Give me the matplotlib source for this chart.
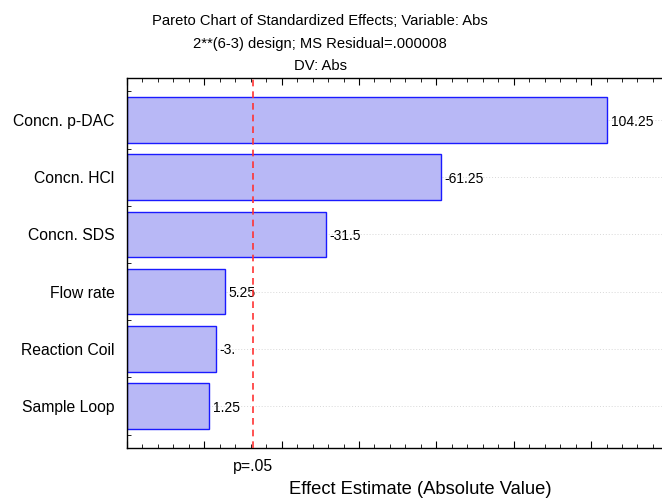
import numpy as np
import matplotlib
matplotlib.use("Agg")
import matplotlib.pyplot as plt
from matplotlib.ticker import MultipleLocator, NullFormatter

plt.rcParams['font.family'] = ['Liberation Sans', 'DejaVu Sans']

factors = ["Concn. p-DAC", "Concn. HCl", "Concn. SDS", "Flow rate", "Reaction Coil", "Sample Loop"]
effects = [104.25, -61.25, -31.5, 5.25, -3.0, 1.25]
labels = ["104.25", "-61.25", "-31.5", "5.25", "-3.", "1.25"]
p_crit = 12.706  # t(0.975, df=1)

fig = plt.figure(figsize=(6.62, 4.99), dpi=100)
ax = fig.add_axes([127/662, 1 - 448/499, (662 - 127)/662, (448 - 78)/499])

xmin, xmax = -20, 118.35
pos = np.arange(len(factors))
absvals = np.abs(effects)

for y in pos:
    ax.axhline(y, color="#d8d8d8", lw=0.7, ls=(0, (1, 2)), zorder=0)

ax.barh(pos, absvals + (0 - xmin), left=xmin, height=0.8,
        color="#b8b8f6", edgecolor="#1a1aff", linewidth=1.0, zorder=2)

for y, v, t in zip(pos, absvals, labels):
    ax.text(v + 0.9, y + 0.03, t, va="center", ha="left", fontsize=10, zorder=3)

ax.axvline(p_crit, color="#ff3333", ls=(0, (4, 3)), lw=1.2, zorder=4)

ax.set_xlim(xmin, xmax)
ax.set_ylim(len(factors) - 1 + 0.735, -0.735)
ax.set_yticks(pos)
ax.set_yticklabels(factors, fontsize=11.3)
ax.yaxis.set_minor_locator(MultipleLocator(0.5))

ax.xaxis.set_major_locator(MultipleLocator(20))
ax.xaxis.set_minor_locator(MultipleLocator(4))
ax.xaxis.set_major_formatter(NullFormatter())

ax.tick_params(axis="x", which="both", direction="in", top=True, bottom=True)
ax.tick_params(axis="y", which="both", direction="in", left=True, right=False)
ax.tick_params(which="major", length=5, width=0.8, pad=9)
ax.tick_params(which="minor", length=3, width=0.6)
ax.spines["right"].set_visible(False)
for s in ["left", "top", "bottom"]:
    ax.spines[s].set_linewidth(1.0)

ax.text(p_crit, -0.03, "p=.05", transform=ax.get_xaxis_transform(),
        ha="center", va="top", fontsize=11.4)

fig.text(420/662, 1 - 490/499, "Effect Estimate (Absolute Value)", ha="center", va="center", fontsize=13.2)

fig.text(320/662, 1 - 21/499, "Pareto Chart of Standardized Effects; Variable: Abs", ha="center", va="center", fontsize=10.6)
fig.text(320/662, 1 - 44/499, "2**(6-3) design; MS Residual=.000008", ha="center", va="center", fontsize=10.6)
fig.text(320/662, 1 - 66/499, "DV: Abs", ha="center", va="center", fontsize=10.6)

fig.savefig("out.png", dpi=100)
